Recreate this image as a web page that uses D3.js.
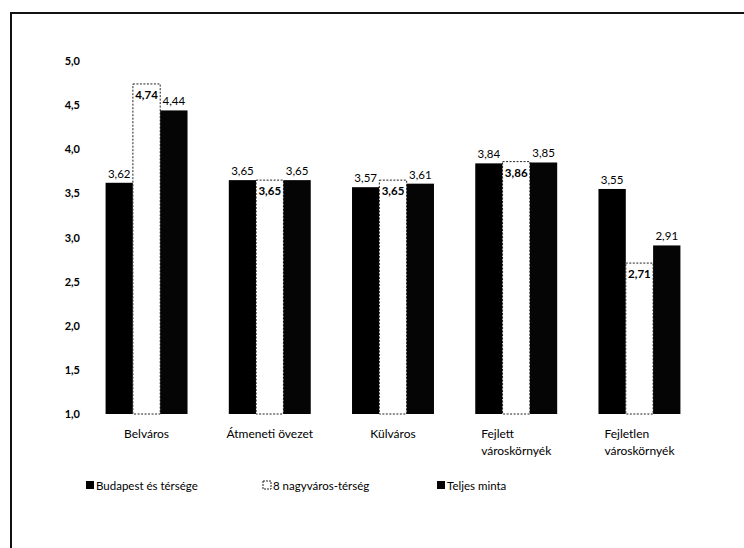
<!DOCTYPE html>
<html>
<head>
<meta charset="utf-8">
<script src="https://cdn.jsdelivr.net/npm/d3@7"></script>
<style>
  body { margin: 0; background: #fff; }
  text { font-family: Lato, "Noto Sans", sans-serif; fill: #000; }
</style>
</head>
<body>
<div id="chart"></div>
<script>
const width = 744;
const height = 548;

const categories = ["Belváros", "Átmeneti övezet", "Külváros", "Fejlett városkörnyék", "Fejletlen városkörnyék"];
const categoryLines = [["Belváros"], ["Átmeneti övezet"], ["Külváros"], ["Fejlett", "városkörnyék"], ["Fejletlen", "városkörnyék"]];
const seriesNames = ["Budapest és térsége", "8 nagyváros-térség", "Teljes minta"];
const budapest = [3.62, 3.65, 3.57, 3.84, 3.55];
const nagyvaros = [4.74, 3.65, 3.65, 3.86, 2.71];
const teljes = [4.44, 3.65, 3.61, 3.85, 2.91];
const yTicks = [1.0, 1.5, 2.0, 2.5, 3.0, 3.5, 4.0, 4.5, 5.0];

const seriesValues = [budapest, nagyvaros, teljes];
const fmt = v => d3.format(".2f")(v).replace(".", ",");

const svg = d3.select("#chart")
              .append("svg")
              .attr("width", width)
              .attr("height", height);

// outer frame
svg.append("path")
   .attr("d", `M11,${height} L11,13 L${width},13`)
   .attr("fill", "none")
   .attr("stroke", "#111")
   .attr("stroke-width", 2);

const x0 = d3.scaleBand()
             .domain(categories)
             .range([85, 701])
             .paddingInner(0.335)
             .paddingOuter(0.167);

const x1 = d3.scaleBand()
             .domain(seriesNames)
             .range([0, x0.bandwidth()]);

const y = d3.scaleLinear()
            .domain([1, 5])
            .range([414, 61]);

// y axis labels only
const yAxis = d3.axisLeft(y).tickValues(yTicks).tickSize(0).tickPadding(0)
                .tickFormat(d => d3.format(".1f")(d).replace(".", ","));
const yg = svg.append("g")
              .attr("transform", "translate(80,0)")
              .call(yAxis);
yg.select(".domain").remove();
yg.selectAll("text")
  .style("font-family", "Lato, 'Noto Sans', sans-serif")
  .style("font-size", "11px")
  .style("font-weight", "bold")
  .attr("fill", "#000");

const data = [];
categories.forEach((c, i) => {
    seriesNames.forEach((s, j) => {
        data.push({ cat: c, series: s, idx: j, value: seriesValues[j][i] });
    });
});

const fills = ["#000000", "#ffffff", "#050505"];

svg.append("g")
   .selectAll("rect")
   .data(data)
   .enter()
   .append("rect")
   .attr("x", d => x0(d.cat) + x1(d.series))
   .attr("y", d => y(d.value))
   .attr("width", x1.bandwidth())
   .attr("height", d => y(1) - y(d.value))
   .attr("fill", d => fills[d.idx])
   .attr("stroke", d => d.idx === 1 ? "#222" : "none")
   .attr("stroke-width", 1)
   .attr("stroke-dasharray", d => d.idx === 1 ? "2,1.5" : null);

// value labels
svg.append("g")
   .selectAll("text")
   .data(data)
   .enter()
   .append("text")
   .attr("x", d => x0(d.cat) + x1(d.series) + x1.bandwidth() / 2)
   .attr("y", d => d.idx === 1 ? y(d.value) + 15 : y(d.value) - 5)
   .attr("text-anchor", "middle")
   .style("font-size", "11.5px")
   .style("font-weight", d => d.idx === 1 ? "bold" : "normal")
   .text(d => fmt(d.value));

// category labels
const catG = svg.append("g");
categories.forEach((c, i) => {
    const lines = categoryLines[i];
    const t = catG.append("text")
                  .style("font-size", "12px")
                  .attr("y", 438);
    lines.forEach((l, k) => {
        t.append("tspan")
         .attr("dy", k === 0 ? 0 : 17)
         .text(l);
    });
    // widest line centred under the group, shorter lines left-aligned with it
    const w = d3.max(t.selectAll("tspan").nodes(), n => n.getComputedTextLength());
    const left = x0(c) + x0.bandwidth() / 2 - w / 2;
    t.selectAll("tspan").attr("x", left);
});

// legend
const legendX = [86, 263, 437];
const legend = svg.append("g");
seriesNames.forEach((s, j) => {
    const g = legend.append("g").attr("transform", `translate(${legendX[j]},481)`);
    g.append("rect")
     .attr("x", 0).attr("y", 0)
     .attr("width", 8).attr("height", 8)
     .attr("fill", fills[j])
     .attr("stroke", j === 1 ? "#222" : "none")
     .attr("stroke-dasharray", j === 1 ? "2,1" : null);
    g.append("text")
     .attr("x", 10)
     .attr("y", 8.5)
     .style("font-size", "11.5px")
     .text(s);
});
</script>
</body>
</html>
